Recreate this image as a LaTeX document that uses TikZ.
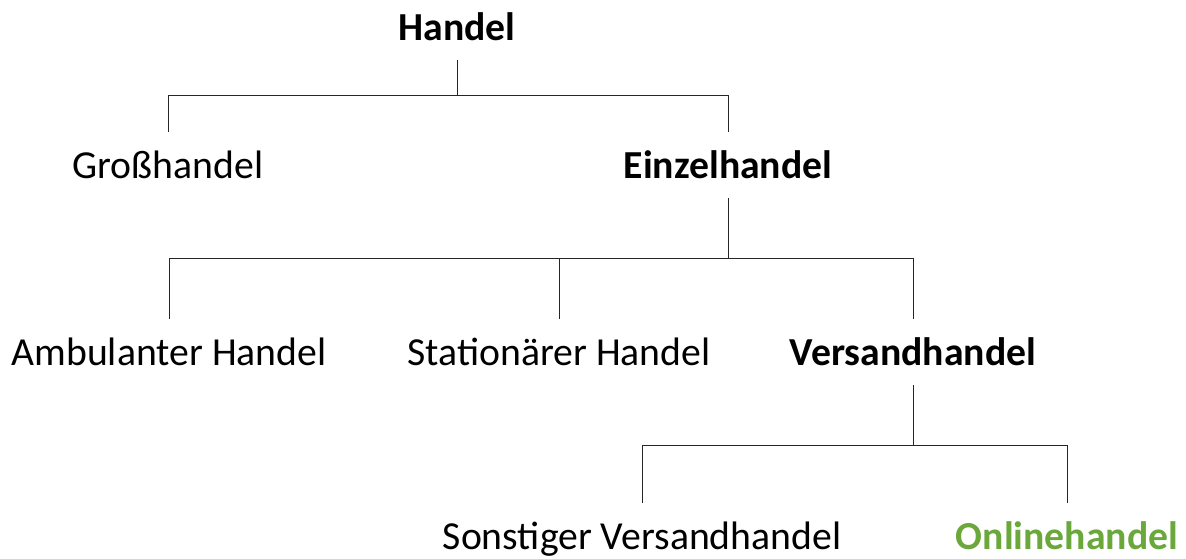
\documentclass[tikz,border=0pt]{standalone}
\usepackage{fontspec}
\setmainfont{Carlito}
\usetikzlibrary{positioning}
\definecolor{onlinegreen}{RGB}{106,168,60}

\begin{document}
\begin{tikzpicture}[x=1pt,y=-1pt]
\tikzset{every node/.style={anchor=base,inner xsep=0pt,inner ysep=20pt,text height=26pt,text depth=0pt,font=\fontsize{39.7}{46}\selectfont}}
\tikzset{branch/.style={draw=black!85,line width=0.9pt}}
\useasboundingbox (0,0) rectangle (1186,558);
% levels
\node (handel) at (457,40) {\textbf{Handel}};
\node (gross) at (168,178) {Großhandel};
\node (einzel) at (728,178) {\textbf{Einzelhandel}};
\node (ambulant) at (169,365) {Ambulanter Handel};
\node (station) at (559,365) {Stationärer Handel};
\node (versand) at (913,365) {\textbf{Versandhandel}};
\node (sonst) at (642,549) {Sonstiger Versandhandel};
\node (online) at (1067,549) {\textcolor{onlinegreen}{\textbf{Onlinehandel}}};
% connectors
\draw [branch] (handel.south) -- ++(0,35) coordinate (j1);
\draw [branch] (j1) -| (gross.north);
\draw [branch] (j1) -| (einzel.north);
\draw [branch] (einzel.south) -- ++(0,60) coordinate (j2);
\draw [branch] (j2) -| (ambulant.north);
\draw [branch] (j2) -| (station.north);
\draw [branch] (j2) -| (versand.north);
\draw [branch] (versand.south) -- ++(0,60) coordinate (j3);
\draw [branch] (j3) -| (sonst.north);
\draw [branch] (j3) -| (online.north);
\end{tikzpicture}
\end{document}
